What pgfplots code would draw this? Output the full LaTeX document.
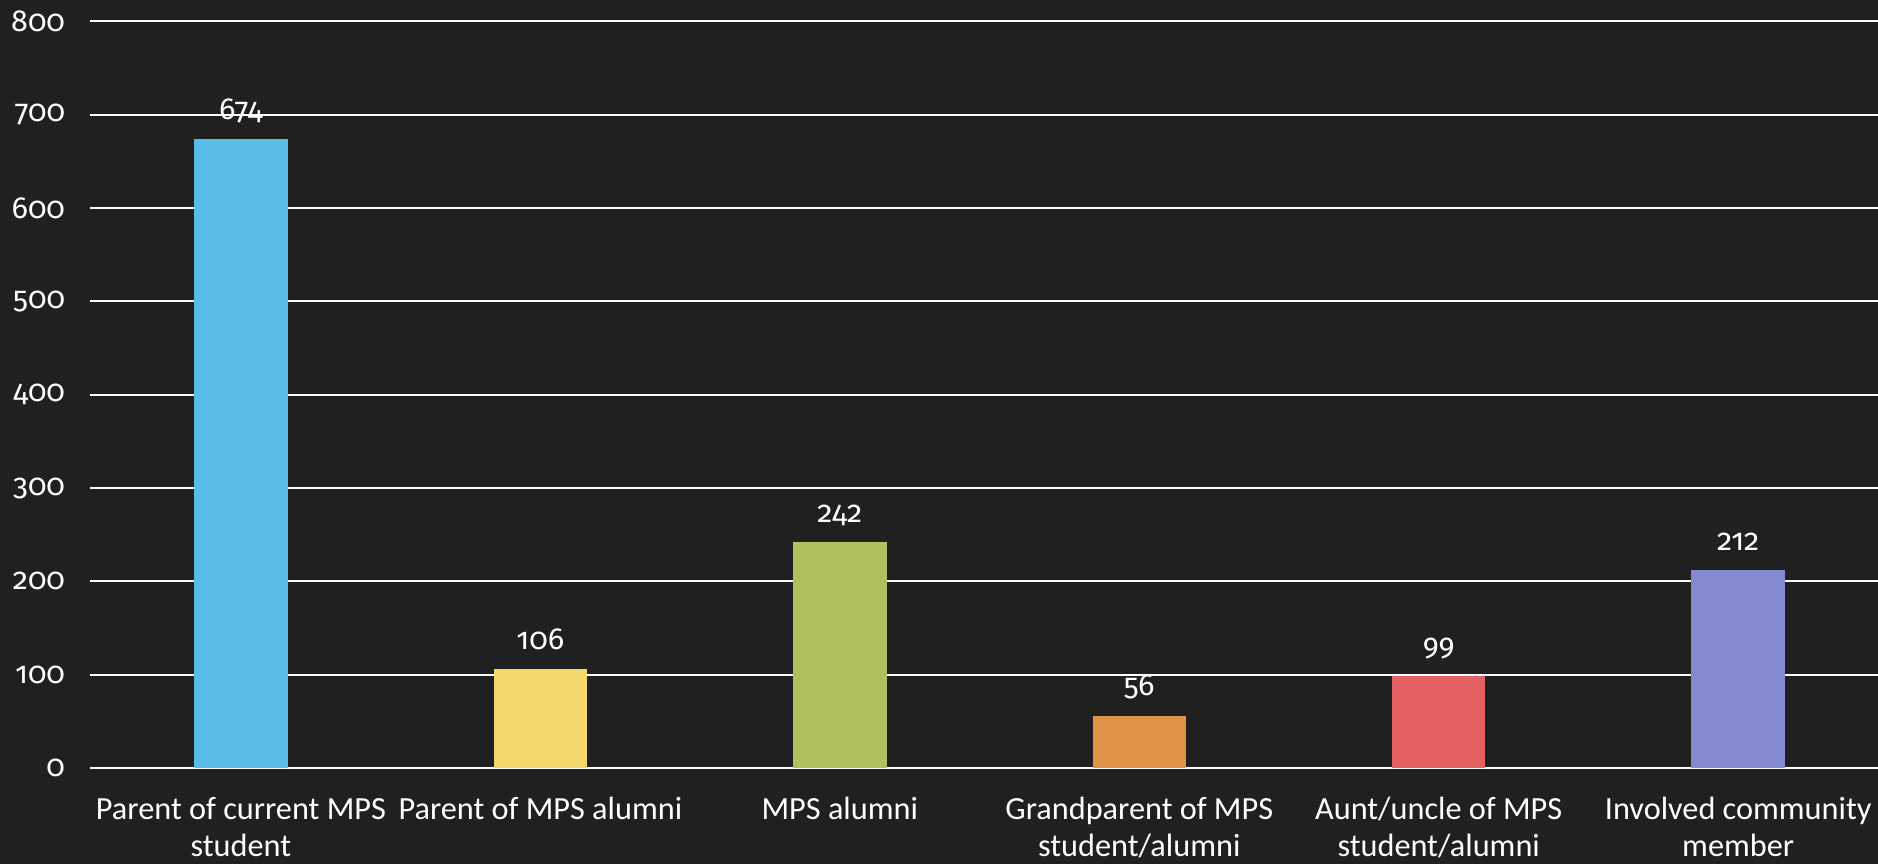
\documentclass[border=0pt]{standalone}
\usepackage{fontspec}
\setmainfont{Carlito}
\newfontfamily\numfont{Fira Sans}[Numbers=OldStyle]
\usepackage{pgfplots}
\pgfplotsset{compat=1.18}
\definecolor{bg}{RGB}{32,32,32}
\definecolor{c1}{RGB}{87,188,230}
\definecolor{c2}{RGB}{244,216,107}
\definecolor{c3}{RGB}{177,191,93}
\definecolor{c4}{RGB}{224,148,74}
\definecolor{c5}{RGB}{228,96,99}
\definecolor{c6}{RGB}{131,137,207}
\begin{document}
\begin{tikzpicture}
\fill[bg] (0bp,0bp) rectangle (939bp,432bp);
\useasboundingbox (0bp,0bp) rectangle (939bp,432bp);
\begin{axis}[
  at={(45bp,48bp)}, anchor=south west,
  scale only axis, width=894bp, height=373.25bp,
  xmin=-0.504, xmax=5.467, ymin=0, ymax=800,
  ytick={0,100,...,800},
  ymajorgrids, grid style={white, line width=1bp},
  axis line style={draw=none},
  major tick length=0pt,
  /pgf/number format/assume math mode=true,
  xtick={0,1,2,3,4,5},
  xticklabels={Parent of current MPS\\student, Parent of MPS alumni, MPS alumni, Grandparent of MPS\\student/alumni, Aunt/uncle of MPS\\student/alumni, Involved community\\member},
  xticklabel style={text=white, font=\fontsize{16.2}{18.5}\selectfont, align=center, anchor=north, yshift=-11bp},
  yticklabel style={text=white, font=\numfont\fontsize{15.3}{16}\selectfont, anchor=east, xshift=-9bp},
  ybar, bar width=0.312, bar shift=0pt,
  nodes near coords,
  every node near coord/.style={text=white, font=\numfont\fontsize{15.3}{16}\selectfont, anchor=base, yshift=10bp},
]
\addplot[fill=c1, draw=none] coordinates {(0,674)};
\addplot[fill=c2, draw=none] coordinates {(1,106)};
\addplot[fill=c3, draw=none] coordinates {(2,242)};
\addplot[fill=c4, draw=none] coordinates {(3,56)};
\addplot[fill=c5, draw=none] coordinates {(4,99)};
\addplot[fill=c6, draw=none] coordinates {(5,212)};
\end{axis}
\end{tikzpicture}
\end{document}
